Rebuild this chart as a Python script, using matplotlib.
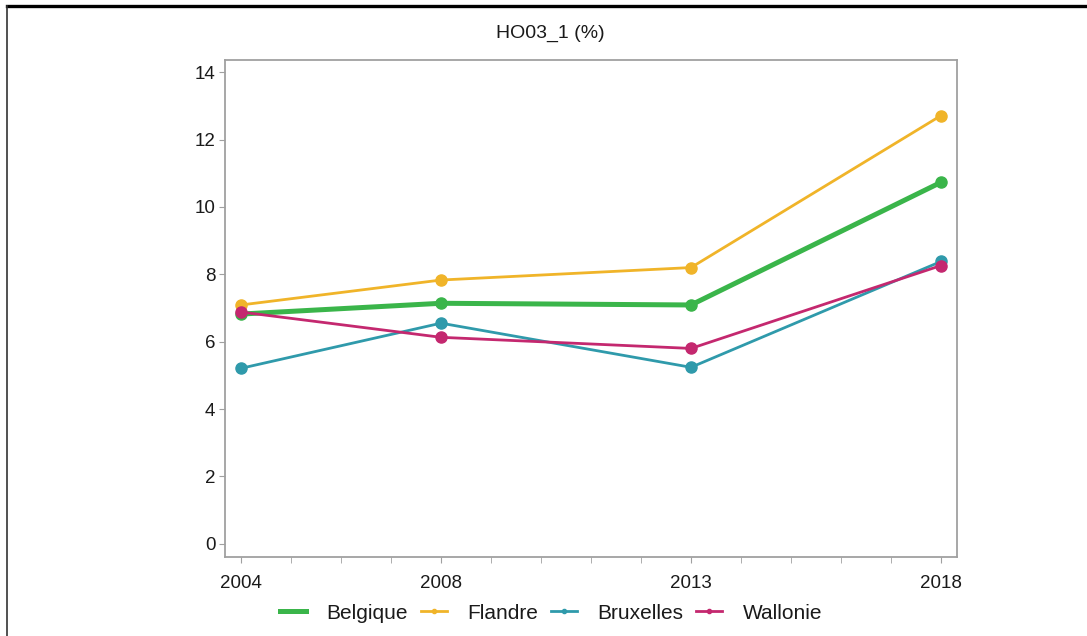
import matplotlib
matplotlib.use("Agg")
import matplotlib.pyplot as plt
from matplotlib.lines import Line2D
from matplotlib.ticker import MultipleLocator

plt.rcParams["font.family"] = ["Liberation Sans", "DejaVu Sans"]

# data
years = [2004, 2008, 2013, 2018]
belgique = [6.82, 7.14, 7.09, 10.73]
flandre = [7.09, 7.83, 8.20, 12.71]
bruxelles = [5.21, 6.55, 5.24, 8.38]
wallonie = [6.88, 6.13, 5.80, 8.26]

series = [
    ("Belgique", belgique, "#3ab54a", 3.6),
    ("Flandre", flandre, "#f0b429", 2.0),
    ("Bruxelles", bruxelles, "#2f9aab", 2.0),
    ("Wallonie", wallonie, "#c4286f", 2.0),
]

fig = plt.figure(figsize=(10.87, 6.36), dpi=100)
ax = fig.add_axes([0.207, 0.1247, 0.6734, 0.7810])

for name, vals, col, lw in series:
    ax.plot(years, vals, color=col, lw=lw, marker="o", ms=8,
            solid_capstyle="round", label=name)

ax.set_xlim(2003.68, 2018.32)
ax.set_ylim(-0.38, 14.36)
ax.set_xticks(years)
ax.set_xticklabels([str(y) for y in years])
ax.xaxis.set_minor_locator(MultipleLocator(1))
ax.set_yticks(range(0, 15, 2))
for sp in ax.spines.values():
    sp.set_color("#a0a0a0")
    sp.set_linewidth(1.3)
ax.tick_params(axis="both", which="both", colors="#a0a0a0", length=4,
               labelcolor="#1a1a1a", labelsize=13.5)
ax.tick_params(axis="x", which="minor", length=4)
ax.tick_params(axis="x", pad=9)
ax.tick_params(axis="y", pad=3)

fig.text(0.506, 0.948, "HO03_1 (%)", ha="center", va="center",
         fontsize=14, color="#1a1a1a")

handles = [Line2D([0], [0], color=col, lw=(3.6 if name == "Belgique" else 2.0),
                  marker="o", ms=(0 if name == "Belgique" else 3))
           for name, vals, col, lw in series]
fig.legend(handles, [s[0] for s in series], loc="center",
           bbox_to_anchor=(0.507, 0.036), ncol=4, frameon=False,
           fontsize=15, handlelength=1.25, handletextpad=1.0,
           columnspacing=0.6, labelcolor="#1a1a1a")

# outer frame lines (top and left)
fig.add_artist(Line2D([0.0065, 1.0], [0.9905, 0.9905], color="black", lw=2.4,
                      transform=fig.transFigure))
fig.add_artist(Line2D([0.0065, 0.0065], [0.0, 0.9905], color="#333333", lw=1.2,
                      transform=fig.transFigure))

fig.savefig("out.png", dpi=100)
